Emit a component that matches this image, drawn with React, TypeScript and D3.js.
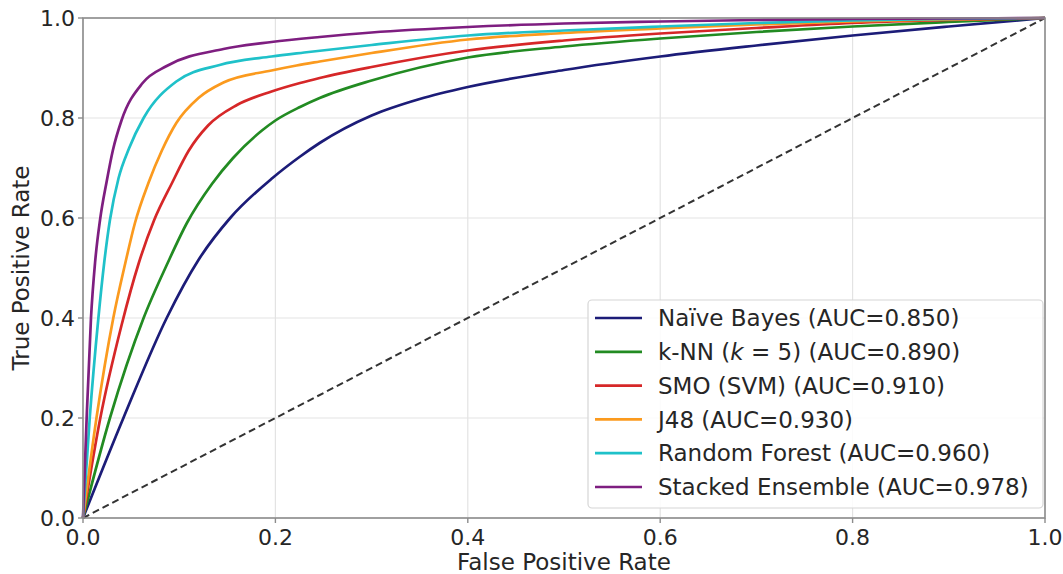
import React, { useEffect, useRef } from "react";
import * as d3 from "d3";

// points (FPR, TPR)
const nbFpr = [0, 0.042, 0.087, 0.12, 0.153, 0.197, 0.225, 0.246, 0.3, 0.35, 0.4, 0.5, 0.6, 0.7, 0.8, 0.9, 1];
const nbTpr = [0, 0.2, 0.4, 0.516, 0.6, 0.68, 0.722, 0.75, 0.805, 0.838, 0.862, 0.896, 0.923, 0.945, 0.965, 0.983, 1];

const knnFpr = [0, 0.028, 0.063, 0.088, 0.108, 0.134, 0.156, 0.186, 0.2, 0.2256, 0.246, 0.3, 0.4, 0.5, 0.6, 0.7, 0.8, 0.9, 1];
const knnTpr = [0, 0.2, 0.4, 0.51, 0.59, 0.668, 0.72, 0.775, 0.795, 0.822, 0.84, 0.875, 0.921, 0.943, 0.959, 0.972, 0.983, 0.992, 1];

const smoFpr = [0, 0.018, 0.04, 0.058, 0.074, 0.092, 0.11, 0.13, 0.16, 0.196, 0.2256, 0.246, 0.3, 0.4, 0.5, 0.6, 0.7, 0.8, 0.9, 1];
const smoTpr = [0, 0.2, 0.385, 0.51, 0.596, 0.668, 0.735, 0.785, 0.826, 0.853, 0.87, 0.88, 0.902, 0.935, 0.955, 0.969, 0.98, 0.99, 0.996, 1];

const j48Fpr = [0, 0.014, 0.0315, 0.044, 0.054, 0.068, 0.082, 0.097, 0.12, 0.146, 0.196, 0.222, 0.246, 0.3, 0.4, 0.5, 0.6, 0.7, 0.8, 0.9, 1];
const j48Tpr = [0, 0.2, 0.4, 0.51, 0.59, 0.67, 0.735, 0.79, 0.84, 0.871, 0.895, 0.905, 0.913, 0.93, 0.957, 0.97, 0.979, 0.987, 0.993, 0.997, 1];

const rfFpr = [0, 0.007, 0.016, 0.022, 0.028, 0.037, 0.048, 0.063, 0.097, 0.142, 0.196, 0.23, 0.3, 0.4, 0.5, 0.6, 0.7, 0.8, 0.9, 1];
const rfTpr = [0, 0.2, 0.4, 0.51, 0.596, 0.68, 0.74, 0.8, 0.873, 0.906, 0.923, 0.931, 0.946, 0.965, 0.975, 0.983, 0.99, 0.995, 0.998, 1];

const stFpr = [0, 0.0038, 0.0083, 0.0125, 0.0177, 0.0246, 0.031, 0.04, 0.062, 0.087, 0.146, 0.196, 0.246, 0.3, 0.4, 0.5, 0.6, 0.7, 0.8, 0.9, 1];
const stTpr = [0, 0.2, 0.4, 0.51, 0.596, 0.673, 0.735, 0.795, 0.87, 0.904, 0.938, 0.952, 0.962, 0.971, 0.982, 0.989, 0.993, 0.996, 0.998, 0.999, 1];

const modelNames = ["Naïve Bayes", "k-NN", "SMO (SVM)", "J48", "Random Forest", "Stacked Ensemble"];
const aucValues = ["0.850", "0.890", "0.910", "0.930", "0.960", "0.978"];
const lineColors = ["#1c1c78", "#228b22", "#d62728", "#fb9a1e", "#1fc1c9", "#7e1e80"];
const fprSeries = [nbFpr, knnFpr, smoFpr, j48Fpr, rfFpr, stFpr];
const tprSeries = [nbTpr, knnTpr, smoTpr, j48Tpr, rfTpr, stTpr];

const ticks = [0, 0.2, 0.4, 0.6, 0.8, 1.0];

const font = "'DejaVu Sans', sans-serif";

export default function App() {
  const ref = useRef<SVGSVGElement>(null);

  useEffect(() => {
    const svg = d3.select(ref.current);
    svg.selectAll("*").remove();

    const left = 83, right = 1045, top = 18, bottom = 518;
    const x = d3.scaleLinear().domain([0, 1]).range([left, right]);
    const y = d3.scaleLinear().domain([0, 1]).range([bottom, top]);

    svg.append("rect").attr("width", 1063).attr("height", 574).attr("fill", "#fff");

    // grid
    const grid = svg.append("g");
    grid.selectAll(".vg").data(ticks).join("line")
      .attr("class", "vg")
      .attr("x1", (d) => x(d)).attr("x2", (d) => x(d))
      .attr("y1", top).attr("y2", bottom)
      .attr("stroke", "#e3e3e3").attr("stroke-width", 1.2);
    grid.selectAll(".hg").data(ticks).join("line")
      .attr("class", "hg")
      .attr("y1", (d) => y(d)).attr("y2", (d) => y(d))
      .attr("x1", left).attr("x2", right)
      .attr("stroke", "#e3e3e3").attr("stroke-width", 1.2);

    // chance line
    svg.append("line")
      .attr("x1", x(0)).attr("y1", y(0)).attr("x2", x(1)).attr("y2", y(1))
      .attr("stroke", "#333").attr("stroke-width", 2)
      .attr("stroke-dasharray", "7,4");

    const lineGen = d3.line<[number, number]>()
      .x((d) => x(d[0]))
      .y((d) => y(d[1]))
      .curve(d3.curveMonotoneX);

    fprSeries.forEach((fpr, k) => {
      const pts: [number, number][] = fpr.map((f, i) => [f, tprSeries[k][i]]);
      svg.append("path")
        .attr("d", lineGen(pts))
        .attr("fill", "none")
        .attr("stroke", lineColors[k])
        .attr("stroke-width", 2.7)
        .attr("stroke-linejoin", "round");
    });

    // spines
    svg.append("rect")
      .attr("x", left).attr("y", top)
      .attr("width", right - left).attr("height", bottom - top)
      .attr("fill", "none").attr("stroke", "#8c8c8c").attr("stroke-width", 1.6);

    // ticks + labels
    const axisG = svg.append("g").style("font-family", font).attr("fill", "#262626");
    ticks.forEach((t) => {
      axisG.append("line").attr("x1", x(t)).attr("x2", x(t)).attr("y1", bottom).attr("y2", bottom + 5)
        .attr("stroke", "#8c8c8c").attr("stroke-width", 1.4);
      axisG.append("text").attr("x", x(t)).attr("y", 545)
        .attr("text-anchor", "middle").style("font-size", "22px").text(t.toFixed(1));
      axisG.append("line").attr("x1", left - 5).attr("x2", left).attr("y1", y(t)).attr("y2", y(t))
        .attr("stroke", "#8c8c8c").attr("stroke-width", 1.4);
      axisG.append("text").attr("x", 75).attr("y", y(t)).attr("dy", "0.36em")
        .attr("text-anchor", "end").style("font-size", "22px").text(t.toFixed(1));
    });

    axisG.append("text").attr("x", (left + right) / 2).attr("y", 570)
      .attr("text-anchor", "middle").style("font-size", "23px").text("False Positive Rate");
    axisG.append("text")
      .attr("transform", `translate(29, ${(top + bottom) / 2}) rotate(-90)`)
      .attr("text-anchor", "middle").style("font-size", "23px").text("True Positive Rate");

    // legend
    const lg = svg.append("g").style("font-family", font);
    lg.append("rect")
      .attr("x", 588).attr("y", 300).attr("width", 455).attr("height", 208).attr("rx", 4)
      .attr("fill", "#fff").attr("fill-opacity", 0.85)
      .attr("stroke", "#d6d6d6").attr("stroke-width", 1.2);
    modelNames.forEach((name, i) => {
      const cy = 318 + i * 33.8;
      lg.append("line").attr("x1", 595).attr("x2", 642).attr("y1", cy).attr("y2", cy)
        .attr("stroke", lineColors[i]).attr("stroke-width", 2.7);
      const t = lg.append("text").attr("x", 658).attr("y", cy).attr("dy", "0.36em")
        .attr("fill", "#262626").style("font-size", "23px");
      if (name === "k-NN") {
        t.append("tspan").text("k-NN (");
        t.append("tspan").style("font-style", "italic").text("k");
        t.append("tspan").text(` = 5) (AUC=${aucValues[i]})`);
      } else {
        t.text(`${name} (AUC=${aucValues[i]})`);
      }
    });
  }, []);

  return (
    <svg ref={ref} width={1063} height={574}
      style={{ position: "absolute", left: 0, top: 0, display: "block" }} />
  );
}
